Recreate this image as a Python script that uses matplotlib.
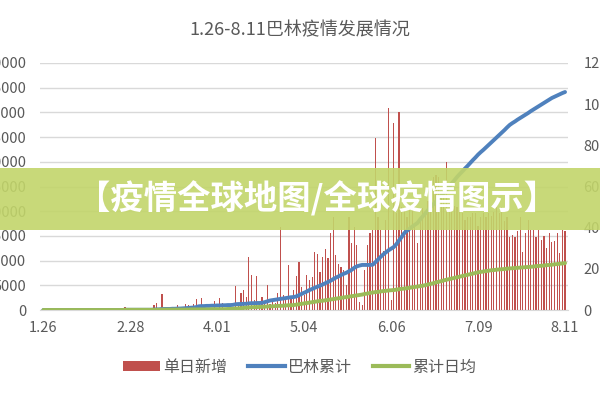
import matplotlib
matplotlib.use("Agg")
import matplotlib.pyplot as plt
from matplotlib.patches import Patch, Rectangle
from matplotlib.lines import Line2D

plt.rcParams['font.family'] = ['Noto Sans CJK SC', 'DejaVu Sans']

# day index 0 = 1.26, index 198 = 8.11
tick_pos = [0, 33, 66, 99, 132, 165, 198]
tick_labels = ['1.26', '2.28', '4.01', '5.04', '6.06', '7.09', '8.11']

daily_new = [
    0, 0, 0, 0, 0, 0, 0, 0, 0, 0,
    0, 0, 0, 0, 0, 0, 0, 0, 0, 0,
    0, 0, 0, 0, 0, 0, 0, 0, 0, 0,
    0, 600, 300, 0, 0, 0, 0, 0, 0, 0,
    0, 0, 1000, 1400, 0, 3300, 0, 0, 0, 0,
    0, 1000, 0, 0, 1200, 1000, 0, 1200, 2200, 0,
    2400, 0, 0, 0, 0, 1800, 0, 2400, 1400, 0,
    0, 0, 0, 4800, 1500, 3400, 4000, 2600, 10700, 7100,
    2000, 6900, 1500, 2700, 1800, 5000, 1200, 2000, 1500, 3400,
    16800, 3000, 2000, 9100, 2500, 4000, 6900, 9700, 4700, 3000,
    7100, 6100, 6700, 11700, 11300, 7700, 10700, 12300, 10500, 15600,
    18800, 11100, 9300, 8700, 8100, 5000, 18800, 13600, 16800, 13200,
    1600, 1000, 8100, 13200, 15600, 16200, 34800, 18800, 16200, 12000,
    18200, 40900, 2000, 37800, 19600, 40100, 20800, 20200, 18800, 20200,
    20800, 17000, 13600, 18800, 20600, 19600, 22000, 26300, 26900, 27300,
    26900, 23300, 25000, 30000, 22300, 22300, 21000, 20800, 20200, 19600,
    18200, 18800, 18800, 19600, 19600, 17000, 18800, 19600, 18800, 19600,
    19000, 19800, 20800, 19600, 20800, 18000, 18800, 14800, 15200, 14800,
    16000, 18800, 11700, 15600, 18200, 16200, 16200, 14800, 16200, 14200,
    15000, 12500, 15600, 13800, 14000, 15600, 11500, 16200, 16000,
]

cumulative = [
    0, 0, 0, 0, 0, 0, 0, 0, 0, 0,
    0, 0, 0, 0, 0, 0, 0, 0, 0, 0,
    0, 0, 0, 0, 0, 0, 0, 0, 0, 0,
    0, 1, 1, 1, 1, 1, 1, 1, 1, 1,
    1, 1, 2, 3, 3, 5, 5, 5, 5, 6,
    6, 7, 7, 8, 9, 10, 11, 12, 14, 18,
    19, 19, 20, 20, 21, 21, 22, 22, 23, 23,
    24, 24, 25, 28, 29, 29, 30, 30, 32, 33,
    33, 34, 34, 35, 38, 42, 46, 48, 50, 52,
    54, 56, 58, 60, 62, 63, 66, 72, 78, 84,
    90, 97, 102, 108, 113, 118, 124, 130, 136, 142,
    150, 157, 163, 170, 176, 181, 188, 195, 205, 212,
    216, 219, 219, 219, 219, 220, 232, 245, 258, 270,
    280, 290, 298, 306, 320, 338, 355, 374, 385, 395,
    405, 414, 423, 440, 455, 470, 485, 500, 513, 527,
    541, 555, 568, 584, 600, 615, 630, 646, 660, 673,
    687, 700, 714, 728, 741, 755, 767, 778, 790, 802,
    814, 826, 838, 850, 862, 874, 887, 899, 908, 916,
    925, 933, 941, 949, 957, 966, 974, 982, 990, 998,
    1006, 1014, 1022, 1030, 1036, 1042, 1048, 1054, 1059,
]

daily_avg = [
    0, 0, 0, 0, 0, 0, 0, 0, 0, 0,
    0, 0, 0, 0, 0, 0, 0, 0, 0, 0,
    0, 0, 0, 0, 0, 0, 0, 0, 0, 0,
    0, 1, 1, 1, 1, 1, 1, 1, 1, 1,
    1, 1, 1, 1, 1, 2, 2, 2, 2, 2,
    2, 2, 2, 2, 2, 2, 3, 3, 3, 3,
    3, 3, 3, 3, 4, 4, 4, 4, 4, 4,
    5, 5, 6, 7, 8, 9, 10, 11, 12, 13,
    14, 14, 15, 15, 16, 17, 18, 18, 19, 20,
    20, 21, 22, 23, 23, 24, 26, 28, 30, 32,
    34, 36, 38, 40, 42, 44, 45, 47, 49, 51,
    53, 55, 57, 59, 61, 63, 65, 67, 69, 71,
    73, 75, 78, 80, 83, 85, 87, 88, 90, 92,
    93, 95, 96, 97, 99, 101, 103, 104, 106, 108,
    110, 112, 114, 116, 118, 121, 124, 127, 130, 134,
    137, 140, 144, 147, 150, 153, 156, 159, 162, 165,
    168, 171, 174, 177, 180, 183, 185, 187, 189, 191,
    193, 194, 196, 197, 198, 199, 201, 202, 203, 204,
    205, 206, 207, 208, 209, 210, 211, 213, 214, 215,
    216, 218, 219, 220, 222, 223, 225, 226, 228,
]

days = list(range(len(daily_new)))

red = '#c0504d'
blue = '#4f81bd'
green = '#9bbb59'
grey = '#595959'

fig = plt.figure(figsize=(6, 4), dpi=100)
ax = fig.add_axes([0.067, 0.225, 0.88, 0.6175])
ax2 = ax.twinx()

ax.bar(days, daily_new, width=0.45, color=red, zorder=2)
ax2.plot(days, cumulative, color=blue, lw=2.8, solid_capstyle='round', zorder=3)
ax2.plot(days, daily_avg, color=green, lw=2.8, solid_capstyle='round', zorder=3)

ax.set_xlim(-1.2, 199.2)
ax.set_ylim(0, 50000)
ax.set_yticks(range(0, 50001, 5000))
ax2.set_ylim(0, 1200)
ax2.set_yticks(range(0, 1201, 200))
ax.set_xticks(tick_pos)
ax.set_xticklabels(tick_labels)

ax.grid(axis='y', color='#d9d9d9', lw=1, zorder=0)
ax.set_axisbelow(True)
for a in (ax, ax2):
    for s in a.spines.values():
        s.set_visible(False)
ax.spines['bottom'].set_visible(True)
ax.spines['bottom'].set_color('#d9d9d9')
ax.tick_params(axis='both', length=0, labelsize=10.5, colors=grey)
ax.tick_params(axis='y', pad=10)
ax.tick_params(axis='x', pad=8)
ax2.tick_params(axis='y', length=0, labelsize=10.5, colors=grey, pad=11)

fig.text(0.5, 0.925, '1.26-8.11巴林疫情发展情况', ha='center', va='center',
         fontsize=13, color=grey)

handles = [Patch(facecolor=red), Line2D([], [], color=blue, lw=3),
           Line2D([], [], color=green, lw=3)]
fig.legend(handles, ['单日新增', '巴林累计', '累计日均'], loc='center',
           bbox_to_anchor=(0.5, 0.082), ncol=3, frameon=False, fontsize=11.5,
           handlelength=2.3, handleheight=0.55, handletextpad=0.2,
           columnspacing=1.3, labelcolor=grey)

# overlay banner
fig.patches.append(Rectangle((0, 0.425), 1, 0.155, transform=fig.transFigure,
                             facecolor='#c2d56a', alpha=0.9, edgecolor='none',
                             zorder=10))
fig.text(0.528, 0.502, '【疫情全球地图/全球疫情图示】', ha='center', va='center',
         fontsize=24, fontweight='bold', color='white', zorder=11)

fig.savefig('out.png', dpi=100)
